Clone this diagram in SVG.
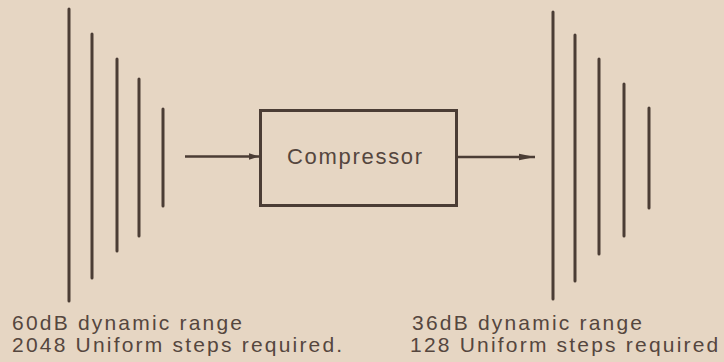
<svg xmlns="http://www.w3.org/2000/svg" width="724" height="362" viewBox="0 0 724 362">
<style>
.bar{stroke:#4b3d35;stroke-width:3;stroke-linecap:round;fill:none}
.box{stroke:#4b3d35;stroke-width:3;fill:none}
.conn{stroke:#4b3d35;stroke-width:2.6;fill:none}
.lbl{font-family:"Liberation Sans",Arial,sans-serif;fill:#55463e}
.cap{font-size:21px;letter-spacing:2.2px}
.main{font-size:22px;letter-spacing:1.7px}
</style>
<defs>
<marker id="ah" viewBox="0 0 10 8" refX="10" refY="4" markerWidth="10" markerHeight="8" markerUnits="userSpaceOnUse" orient="auto">
<path d="M0,0.8 L10,4 L0,7.2 Z" fill="#4b3d35"/>
</marker>
<marker id="ah2" viewBox="0 0 16 8" refX="16" refY="4" markerWidth="16" markerHeight="8" markerUnits="userSpaceOnUse" orient="auto">
<path d="M0,0.8 L16,4 L0,7.2 Z" fill="#4b3d35"/>
</marker>
</defs>
<rect width="724" height="362" fill="#e6d6c3"/>
<g id="input-signal">
<line class="bar" x1="69" y1="9" x2="69" y2="301"/>
<line class="bar" x1="92" y1="34" x2="92" y2="278"/>
<line class="bar" x1="117" y1="59" x2="117" y2="251"/>
<line class="bar" x1="139" y1="79" x2="139" y2="236"/>
<line class="bar" x1="163" y1="109" x2="163" y2="206"/>
<text class="lbl cap" x="12" y="330">60dB dynamic range</text>
<text class="lbl cap" x="12" y="352">2048 Uniform steps required.</text>
</g>
<g id="compressor">
<rect class="box" x="260.5" y="110.5" width="196" height="95"/>
<text class="lbl main" x="287" y="164">Compressor</text>
</g>
<g id="output-signal">
<line class="bar" x1="553" y1="12" x2="553" y2="299"/>
<line class="bar" x1="575" y1="35" x2="575" y2="281"/>
<line class="bar" x1="599" y1="59" x2="599" y2="254"/>
<line class="bar" x1="624" y1="84" x2="624" y2="236"/>
<line class="bar" x1="649" y1="108" x2="649" y2="208"/>
<text class="lbl cap" x="412" y="330">36dB dynamic range</text>
<text class="lbl cap" x="410" y="352">128 Uniform steps required</text>
</g>
<g id="connectors">
<line class="conn" x1="185" y1="156.5" x2="259" y2="156.5" marker-end="url(#ah)"/>
<line class="conn" x1="458" y1="157" x2="535" y2="157" marker-end="url(#ah2)"/>
</g>
</svg>
